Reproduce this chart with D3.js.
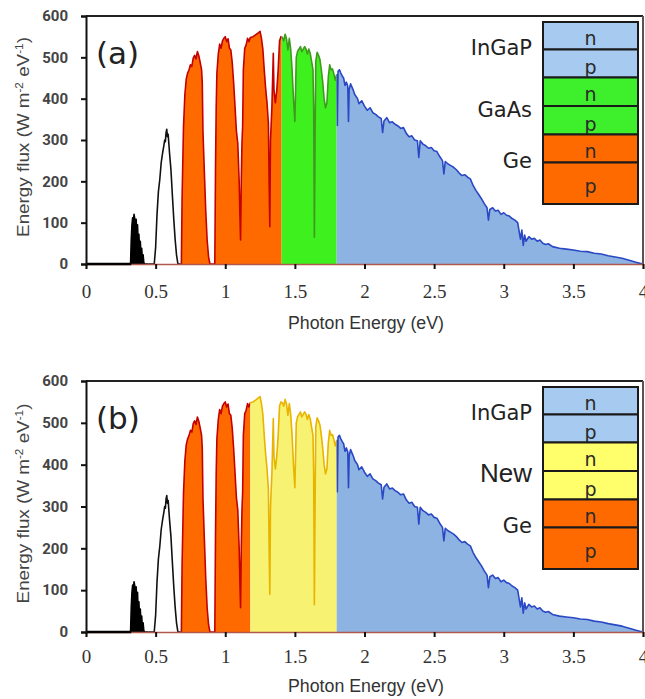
<!DOCTYPE html>
<html>
<head>
<meta charset="utf-8">
<script src="https://cdn.jsdelivr.net/npm/d3@7"></script>
<style>
  body { margin: 0; background: #fff; }
  svg { display: block; }
</style>
</head>
<body>
<svg id="chart" width="645" height="699"></svg>
<script>
// AM1.5 solar spectrum as energy flux per photon energy: [eV, W m^-2 eV^-1]
const spectrum = [
  [0,0],[0.32,0],[0.325,60],[0.33,95],[0.335,112],[0.34,102],[0.345,120],[0.35,110],[0.355,88],[0.36,108],
  [0.365,68],[0.37,95],[0.375,48],[0.38,72],[0.385,28],[0.39,55],[0.395,18],[0.40,38],[0.405,8],[0.41,22],
  [0.415,4],[0.42,0],
  [0.49,0],[0.50,40],[0.51,120],[0.52,175],[0.53,205],[0.54,245],[0.55,268],[0.56,288],[0.565,300],[0.57,296],
  [0.575,318],[0.58,326],[0.585,308],[0.59,314],[0.60,268],[0.61,228],[0.62,168],[0.63,110],[0.64,60],[0.65,22],
  [0.66,0],
  [0.685,0],[0.69,160],[0.70,330],[0.71,410],[0.72,448],[0.73,462],[0.74,470],[0.75,482],[0.76,478],[0.77,498],
  [0.78,505],[0.79,496],[0.80,514],[0.81,504],[0.82,488],[0.83,470],[0.835,440],[0.84,320],[0.85,222],[0.86,128],
  [0.87,58],[0.88,18],[0.89,0],
  [0.925,0],[0.93,230],[0.935,380],[0.94,462],[0.95,508],[0.96,532],[0.97,522],[0.98,540],[0.99,546],[1.00,550],
  [1.01,538],[1.02,545],[1.03,522],[1.04,518],[1.05,488],[1.06,440],[1.07,382],[1.08,322],[1.09,292],[1.10,200],
  [1.105,120],[1.11,58],[1.115,200],[1.12,292],[1.125,335],[1.13,470],[1.14,522],[1.15,530],[1.16,546],[1.17,538],
  [1.18,548],[1.20,550],[1.22,555],[1.24,560],[1.25,563],[1.26,546],[1.27,520],[1.28,470],[1.29,425],[1.30,390],
  [1.31,340],[1.315,200],[1.32,90],[1.325,300],[1.335,380],[1.345,510],[1.35,420],[1.36,390],[1.37,420],[1.38,470],
  [1.39,540],[1.40,550],[1.41,548],[1.42,540],[1.43,556],[1.44,545],[1.45,518],[1.46,546],[1.47,520],[1.48,470],
  [1.49,400],[1.50,345],[1.505,420],[1.51,500],[1.52,515],[1.53,520],[1.54,526],[1.55,514],[1.56,520],[1.57,526],
  [1.58,520],[1.59,508],[1.60,520],[1.61,510],[1.62,490],[1.63,470],[1.635,380],[1.64,65],[1.645,300],[1.65,490],
  [1.66,512],[1.67,505],[1.68,495],[1.69,470],[1.70,440],[1.71,400],[1.72,378],[1.73,390],[1.74,452],[1.75,482],
  [1.76,470],[1.77,472],[1.78,460],[1.79,445],[1.80,458],[1.805,335],[1.81,466],[1.82,470],[1.83,462],[1.84,455],
  [1.85,450],[1.86,432],[1.87,440],[1.88,430],[1.885,345],[1.89,422],[1.90,436],[1.92,420],[1.93,410],[1.95,400],
  [1.96,388],[1.98,395],[2.00,382],[2.02,372],[2.04,378],[2.06,366],[2.08,362],[2.10,356],[2.12,352],[2.13,318],
  [2.14,346],[2.16,354],[2.18,342],[2.20,344],[2.22,338],[2.24,334],[2.26,328],[2.28,330],[2.30,316],[2.32,308],
  [2.34,310],[2.36,300],[2.38,298],[2.39,258],[2.40,298],[2.42,290],[2.44,286],[2.46,280],[2.48,282],[2.50,274],
  [2.52,272],[2.54,260],[2.56,250],[2.57,218],[2.58,248],[2.60,242],[2.62,238],[2.64,234],[2.66,228],[2.68,220],
  [2.70,214],[2.72,216],[2.74,210],[2.76,206],[2.78,190],[2.80,178],[2.82,168],[2.84,158],[2.86,146],[2.88,136],
  [2.89,106],[2.90,132],[2.92,136],[2.94,128],[2.96,130],[2.98,120],[3.00,124],[3.02,118],[3.04,116],[3.06,110],
  [3.08,106],[3.10,100],[3.12,60],[3.13,82],[3.14,45],[3.15,70],[3.16,55],[3.18,66],[3.20,60],[3.22,62],
  [3.24,55],[3.26,58],[3.28,50],[3.30,47],[3.32,49],[3.35,42],[3.40,38],[3.45,36],[3.50,34],[3.55,31],
  [3.60,30],[3.65,26],[3.70,24],[3.75,20],[3.80,17],[3.85,14],[3.90,9],[3.95,4],[4.00,0]
];

const xTicks = [0, 0.5, 1, 1.5, 2, 2.5, 3, 3.5, 4];
const yTicks = [0, 100, 200, 300, 400, 500, 600];

// Absorption bands of each cell stack (eV edges, low to high)
const bandEdgesA = [0, 0.45, 0.68, 1.405, 1.8, 4];
const bandEdgesB = [0, 0.45, 0.68, 1.18, 1.8, 4];

const bandFillsA   = ["#000000", "#ffffff", "#ff6a00", "#3ef01e", "#8db3e2"];
const bandStrokesA = ["#000000", "#111111", "#c40000", "#3f9a1e", "#2a48c4"];
const bandFillsB   = ["#000000", "#ffffff", "#ff6a00", "#f7f272", "#8db3e2"];
const bandStrokesB = ["#000000", "#111111", "#c40000", "#e8b400", "#2a48c4"];

// Junction stack legends (top to bottom)
const junctionNamesA = ["InGaP", "GaAs", "Ge"];
const junctionNamesB = ["InGaP", "New", "Ge"];
const layerColorsA = ["#a6caf0", "#a6caf0", "#3ef02c", "#3ef02c", "#ff6a00", "#ff6a00"];
const layerColorsB = ["#a6caf0", "#a6caf0", "#ffff6c", "#ffff6c", "#ff6a00", "#ff6a00"];
const layerTypes = ["n", "p", "n", "p", "n", "p"];

const panels = [
  { label: "(a)", top: 16, bottom: 264, edges: bandEdgesA, fills: bandFillsA, strokes: bandStrokesA,
    names: junctionNamesA, layerColors: layerColorsA, tickDy: 34, titleY: 329,
    nameFont: ["21px", "21px", "21px"], nameDy: [5, 11, 5],
    nameFamily: ["'DejaVu Sans'", "'DejaVu Sans'", "'DejaVu Sans'"] },
  { label: "(b)", top: 381, bottom: 632, edges: bandEdgesB, fills: bandFillsB, strokes: bandStrokesB,
    names: junctionNamesB, layerColors: layerColorsB, tickDy: 31, titleY: 692,
    nameFont: ["21px", "26px", "21px"], nameDy: [5, 11, 5],
    nameFamily: ["'DejaVu Sans'", "'Liberation Sans'", "'DejaVu Sans'"] }
];

const svg = d3.select("#chart");
const left = 86, right = 643;
const x = d3.scaleLinear().domain([0, 4]).range([left, right]);

panels.forEach((p, pi) => {
  const y = d3.scaleLinear().domain([0, 600]).range([p.bottom, p.top]);
  const g = svg.append("g");
  const defs = svg.append("defs");

  const area = d3.area().x(d => x(d[0])).y0(y(0)).y1(d => y(d[1]));
  const line = d3.line().x(d => x(d[0])).y(d => y(d[1]));

  // spectrum, filled and outlined band by band
  p.edges.slice(0, -1).forEach((e0, i) => {
    const e1 = p.edges[i + 1];
    const id = `clip-${pi}-${i}`;
    defs.append("clipPath").attr("id", id)
      .append("rect")
      .attr("x", x(e0)).attr("y", p.top - 2)
      .attr("width", x(e1) - x(e0)).attr("height", p.bottom - p.top + 3);
    g.append("path").datum(spectrum)
      .attr("clip-path", `url(#${id})`)
      .attr("fill", p.fills[i]).attr("d", area);
    g.append("path").datum(spectrum)
      .attr("clip-path", `url(#${id})`)
      .attr("fill", "none").attr("stroke", p.strokes[i])
      .attr("stroke-width", 1.6).attr("stroke-linejoin", "round")
      .attr("d", line);
  });

  // frame: top and right edges
  g.append("line").attr("x1", left).attr("x2", right).attr("y1", p.top).attr("y2", p.top)
    .attr("stroke", "#222").attr("stroke-width", 2);
  g.append("line").attr("x1", right).attr("x2", right).attr("y1", p.top).attr("y2", p.bottom)
    .attr("stroke", "#555").attr("stroke-width", 2);

  // x axis
  const xAxis = g.append("g").attr("transform", `translate(0,${y(0)})`)
    .call(d3.axisBottom(x).tickValues(xTicks).tickSize(5).tickFormat(d3.format("")));
  xAxis.select(".domain").attr("stroke", "#b0584c").attr("stroke-width", 1.5);
  xAxis.selectAll(".tick line").attr("stroke", "#111").attr("stroke-width", 2);
  xAxis.selectAll(".tick text")
    .attr("y", p.tickDy).attr("dy", null)
    .attr("font-family", "'Liberation Serif', serif").attr("font-size", 19).attr("fill", "#333");

  // black baseline under the dark, low-energy part of the spectrum
  const firstLit = spectrum.find(d => d[1] > 0)[0];
  g.append("line").attr("x1", x(0)).attr("x2", x(firstLit)).attr("y1", y(0)).attr("y2", y(0))
    .attr("stroke", "#000").attr("stroke-width", 2.5);

  // y axis
  const yAxis = g.append("g").attr("transform", `translate(${left},0)`)
    .call(d3.axisLeft(y).tickValues(yTicks).tickSize(5).tickPadding(13));
  yAxis.select(".domain").attr("stroke", "#111").attr("stroke-width", 2);
  yAxis.selectAll(".tick line").attr("stroke", "#111").attr("stroke-width", 2);
  yAxis.selectAll(".tick text")
    .attr("font-family", "Roboto, sans-serif").attr("font-weight", 700)
    .attr("font-size", 15).attr("fill", "#444");

  // axis titles
  const xt = g.append("text")
    .attr("text-anchor", "middle")
    .attr("font-family", "'Liberation Sans Narrow', 'Liberation Sans', sans-serif")
    .attr("font-size", 18).attr("fill", "#333")
    .text("Photon Energy (eV)");
  fitWidth(xt, 156, 366, p.titleY, 0);

  const yc = (p.top + p.bottom) / 2 - 3;
  const yt = g.append("text")
    .attr("text-anchor", "middle")
    .attr("font-family", "'Liberation Sans Narrow', 'Liberation Sans', sans-serif")
    .attr("font-size", 16).attr("fill", "#444");
  yt.append("tspan").text("Energy flux (W m");
  yt.append("tspan").attr("font-size", 10).attr("dy", -6).text("-2");
  yt.append("tspan").attr("dy", 6).text(" eV");
  yt.append("tspan").attr("font-size", 10).attr("dy", -6).text("-1");
  yt.append("tspan").attr("dy", 6).text(")");
  fitWidth(yt, 200, 29, yc, -90);

  // panel label
  g.append("text").attr("x", 96).attr("y", p.top + 48)
    .attr("font-family", "'DejaVu Sans', sans-serif").attr("font-size", 31)
    .attr("fill", "#222").text(p.label);

  // junction stack legend
  const lx = 543, lw = 95;
  const rowH = [27.5, 28, 28.5, 28.5, 28, 41.5];
  let ly = p.top + 6;
  const rowTops = [];
  layerTypes.forEach((t, i) => {
    rowTops.push(ly);
    g.append("rect").attr("x", lx).attr("y", ly).attr("width", lw).attr("height", rowH[i])
      .attr("fill", p.layerColors[i]).attr("stroke", "#1a1a1a").attr("stroke-width", 2);
    const last = i === layerTypes.length - 1;
    g.append("text")
      .attr("x", lx + lw / 2)
      .attr("y", last ? ly + rowH[i] - 11 : ly + rowH[i] - (t === "p" ? 4 : 5))
      .attr("text-anchor", "middle")
      .attr("font-family", "'DejaVu Sans', sans-serif").attr("font-size", 19)
      .attr("fill", "#2a2a2a").text(t);
    ly += rowH[i];
  });
  p.names.forEach((name, j) => {
    const boundary = rowTops[2 * j + 1];
    g.append("text")
      .attr("x", 532).attr("y", boundary + p.nameDy[j])
      .attr("text-anchor", "end")
      .attr("font-family", p.nameFamily[j]).attr("font-size", p.nameFont[j])
      .attr("fill", "#222").text(name);
  });
});

// squeeze or stretch a title to a set length around its anchor point
function fitWidth(sel, target, cx, cy, rot) {
  sel.attr("x", 0).attr("y", 0);
  const w = sel.node().getComputedTextLength();
  const s = target / w;
  sel.attr("transform", `translate(${cx},${cy}) rotate(${rot}) scale(${s},1)`);
}
</script>
</body>
</html>
